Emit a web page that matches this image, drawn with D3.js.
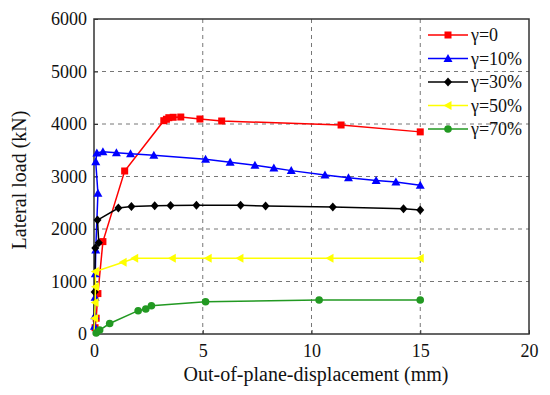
<!DOCTYPE html>
<html lang="en">
<head>
  <meta charset="UTF-8">
  <title>Lateral load vs out-of-plane displacement</title>
  <script src="https://cdn.jsdelivr.net/npm/d3@7/dist/d3.min.js"></script>
  <style>
    body { margin: 0; background: #fff; }
  </style>
</head>
<body>
  <div id="wrapper"></div>
  <script>
    // data: [displacement (mm), lateral load (kN)]
    const seriesNames = ["γ=0", "γ=10%", "γ=30%", "γ=50%", "γ=70%"]
    const g0 = [[0, 0], [0.05, 120], [0.1, 300], [0.18, 770], [0.41, 1760], [1.41, 3105], [3.21, 4063], [3.33, 4090],
      [3.44, 4120], [3.64, 4128], [3.99, 4133], [4.87, 4095], [5.87, 4057], [11.36, 3981], [15, 3850]]
    const g10 = [[0, 0], [0.02, 150], [0.04, 350], [0.05, 700], [0.06, 1150], [0.08, 1600], [0.18, 2680], [0.08, 3280],
      [0.13, 3450], [0.41, 3473], [1.03, 3453], [1.68, 3434], [2.75, 3404], [5.13, 3327], [6.26, 3270], [7.4, 3213],
      [8.27, 3160], [9.07, 3112], [10.62, 3029], [11.7, 2977], [12.97, 2925], [13.88, 2895], [15, 2835]]
    const g30 = [[0, 0], [0.03, 800], [0.06, 1640], [0.22, 1740], [0.16, 2170], [1.12, 2400], [1.72, 2430], [2.79, 2444],
      [3.52, 2447], [4.71, 2451], [6.74, 2451], [7.89, 2438], [10.98, 2419], [14.23, 2387], [15, 2362]]
    const g50 = [[0, 0], [0.03, 300], [0.05, 600], [0.07, 900], [0.06, 1190], [1.34, 1366], [1.87, 1442], [3.6, 1442],
      [5.25, 1442], [6.71, 1442], [10.85, 1442], [15, 1442]]
    const g70 = [[0, 0], [0.1, 20], [0.26, 76], [0.72, 200], [2.03, 444], [2.38, 476], [2.64, 539], [5.13, 615],
      [10.35, 648], [15, 648]]
    const xTicks = [0, 5, 10, 15, 20]
    const yTicks = [0, 1000, 2000, 3000, 4000, 5000, 6000]

    const colors = ["#ff0000", "#0000ff", "#000000", "#ffff00", "#229922"]
    const symbols = ["square", "triangle", "diamond", "left", "circle"]
    const allSeries = [g0, g10, g30, g50, g70]
    const serif = "Liberation Serif"

    let dimensions = {
      width: 550,
      height: 395,
      margin: { top: 19, right: 21, bottom: 61, left: 94 }
    }
    dimensions.boundedWidth = dimensions.width - dimensions.margin.left - dimensions.margin.right
    dimensions.boundedHeight = dimensions.height - dimensions.margin.top - dimensions.margin.bottom

    const svg = d3.select("#wrapper").append("svg")
      .attr("width", dimensions.width)
      .attr("height", dimensions.height)
      .attr("font-family", serif)
    const bounds = svg.append("g")
      .attr("transform", `translate(${dimensions.margin.left},${dimensions.margin.top})`)

    const xScale = d3.scaleLinear().domain([0, 20]).range([0, dimensions.boundedWidth])
    const yScale = d3.scaleLinear().domain([0, 6000]).range([dimensions.boundedHeight, 0])

    // dashed grid
    bounds.append("g").selectAll("line").data(yTicks.slice(1, -1)).join("line")
      .attr("x1", 0).attr("x2", dimensions.boundedWidth)
      .attr("y1", d => yScale(d)).attr("y2", d => yScale(d))
      .attr("stroke", "#777").attr("stroke-dasharray", "4,4")
    bounds.append("g").selectAll("line").data(xTicks.slice(1, -1)).join("line")
      .attr("y1", 0).attr("y2", dimensions.boundedHeight)
      .attr("x1", d => xScale(d)).attr("x2", d => xScale(d))
      .attr("stroke", "#777").attr("stroke-dasharray", "4,4")

    // axes
    const xAxis = bounds.append("g")
      .attr("transform", `translate(0,${dimensions.boundedHeight})`)
      .call(d3.axisBottom(xScale).tickValues(xTicks).tickFormat(d3.format("d")).tickSize(-4).tickPadding(10))
    const yAxis = bounds.append("g")
      .call(d3.axisLeft(yScale).tickValues(yTicks).tickFormat(d3.format("d")).tickSize(-4).tickPadding(7))
    ;[xAxis, yAxis].forEach(a => {
      a.attr("font-family", serif).attr("font-size", 18)
      a.select(".domain").remove()
      a.selectAll("text").attr("fill", "#111")
      a.selectAll("line").attr("stroke", "#333")
    })

    bounds.append("rect")
      .attr("width", dimensions.boundedWidth).attr("height", dimensions.boundedHeight)
      .attr("fill", "none").attr("stroke", "#333").attr("stroke-width", 1.5)

    // symbol drawing helper
    function drawMarker(sel, kind, color) {
      if (kind === "square") {
        sel.append("rect").attr("x", -3.5).attr("y", -3.5).attr("width", 7).attr("height", 7).attr("fill", color)
      } else if (kind === "triangle") {
        sel.append("path").attr("d", "M0,-4.5L4.5,3.5L-4.5,3.5Z").attr("fill", color)
      } else if (kind === "diamond") {
        sel.append("path").attr("d", "M0,-4.5L4,0L0,4.5L-4,0Z").attr("fill", color)
      } else if (kind === "left") {
        sel.append("path").attr("d", "M-4.5,0L3.5,-4.5L3.5,4.5Z").attr("fill", color)
      } else {
        sel.append("circle").attr("r", 3.8).attr("fill", color)
      }
    }

    const lineGenerator = d3.line()
      .x(d => xScale(d[0]))
      .y(d => yScale(d[1]))

    allSeries.forEach((data, i) => {
      const g = bounds.append("g")
      g.append("path")
        .attr("d", lineGenerator(data))
        .attr("fill", "none")
        .attr("stroke", colors[i])
        .attr("stroke-width", 1.5)
      g.selectAll("g").data(data.slice(1)).join("g")
        .attr("transform", d => `translate(${xScale(d[0])},${yScale(d[1])})`)
        .each(function () { drawMarker(d3.select(this), symbols[i], colors[i]) })
    })

    // legend
    const legend = svg.append("g").attr("transform", "translate(428,35)")
    seriesNames.forEach((name, i) => {
      const row = legend.append("g").attr("transform", `translate(0,${i * 23.5})`)
      row.append("line").attr("x1", 0).attr("x2", 40).attr("stroke", colors[i]).attr("stroke-width", 1.5)
      drawMarker(row.append("g").attr("transform", "translate(20,0)"), symbols[i], colors[i])
      row.append("text").attr("x", 43).attr("dy", "0.35em")
        .attr("font-size", 18).attr("fill", "#111").text(name)
    })

    // titles
    svg.append("text")
      .attr("x", 316).attr("y", 381)
      .attr("text-anchor", "middle")
      .attr("font-size", 20).attr("fill", "#111")
      .text("Out-of-plane-displacement (mm)")
    svg.append("text")
      .attr("transform", "translate(26,180) rotate(-90)")
      .attr("text-anchor", "middle")
      .attr("font-size", 20).attr("fill", "#111")
      .text("Lateral load (kN)")
  </script>
</body>
</html>
